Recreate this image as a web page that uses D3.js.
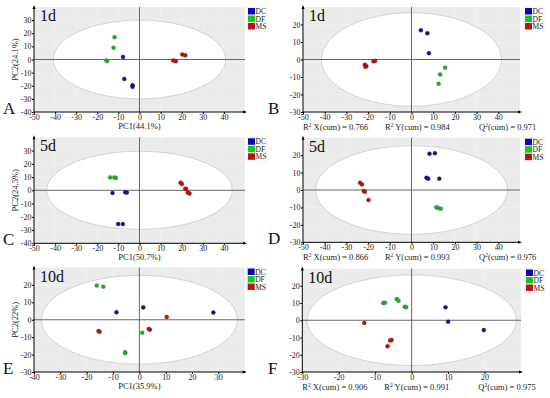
<!DOCTYPE html>
<html><head><meta charset="utf-8">
<script src="https://cdn.jsdelivr.net/npm/d3@7"></script>
<style>body{margin:0;background:#fff}svg{display:block}text{font-family:"Liberation Serif","Times New Roman",serif}</style>
</head><body><svg id="c" width="550" height="398"></svg>
<script>
const groups = ["DC", "DF", "MS"];
const A_DC = [[-7.8,2],[-7.2,-14.8],[-3.3,-19.6],[-3.3,-20.8]];
const A_DF = [[-11.8,17],[-12.3,8.9],[-15.7,-0.8],[-15.3,-1.2]];
const A_MS = [[16,-0.8],[17.2,-1.3],[20.3,3.8],[21.7,3.2]];
const B_DC = [[4.3,16.7],[7.3,15],[8,3.6]];
const B_DF = [[15.5,-4.7],[13.2,-8.6],[12.5,-13.9]];
const B_MS = [[-21.5,-3],[-20.8,-3.8],[-21.2,-4.2],[-17.5,-1],[-16.8,-0.8]];
const C_DC = [[-12.8,-2],[-6.8,-1.5],[-6,-1.75],[-10.1,-25.5],[-7.9,-25.5]];
const C_DF = [[-13.9,9.75],[-11.9,9.75],[-11.2,9.25]];
const C_MS = [[19.5,5.75],[20.1,4.75],[21.7,1.25],[22.1,1],[22.9,-1.75],[23.7,-2.5]];
const D_DC = [[8.3,20.8],[10.8,21.1],[6.9,7],[7.7,6.5],[12.8,6.5]];
const D_DF = [[11.4,-9.9],[12.3,-10.3],[13.5,-10.7]];
const D_MS = [[-23.7,4.2],[-22.8,3.2],[-22,-0.6],[-21.5,-1],[-19.8,-5.7]];
const E_DC = [[-8.7,4.3],[1.5,7.1],[28.1,4.1]];
const E_DF = [[-16.2,19.6],[-13.7,19],[1.1,-7.5],[-5.4,-18.6],[-5.4,-19.2]];
const E_MS = [[-15.5,-6.5],[-15.1,-6.9],[3.6,-5.3],[4,-5.7],[10.4,1.6]];
const F_DC = [[9.3,7.5],[10,-0.8],[19.8,-5.7]];
const F_DF = [[-7.8,10],[-7.3,10.2],[-4.1,12.3],[-3.6,11.3],[-1.9,7.8],[-1.5,7.6]];
const F_MS = [[-13,-1.6],[-5.9,-11.8],[-5.5,-11.4],[-6.6,-15]];

const xTicks50 = [-50,-40,-30,-20,-10,0,10,20,30,40];
const xTicks40 = [-40,-30,-20,-10,0,10,20,30];
const xTicks30 = [-30,-20,-10,0,10,20];
const yTicks40 = [-40,-30,-20,-10,0,10,20,30];
const yTicks30 = [-30,-20,-10,0,10,20];
const panelLetters = ["A","B","C","D","E","F"];
const dayLabels = ["1d","1d","5d","5d","10d","10d"];
const xLabels = ["PC1(44.1%)", null, "PC1(50.7%)", null, "PC1(35.9%)", null];
const yLabels = ["PC2(24.1%)", null, "PC2(24.5%)", null, "PC2(22%)", null];
const r2x = [null,"0.766",null,"0.866",null,"0.906"];
const r2y = [null,"0.984",null,"0.993",null,"0.991"];
const q2 = [null,"0.971",null,"0.976",null,"0.975"];
const ellipseRx = [40.8, 41.5, 44, 44.2, 37.2, 28.7];
const ellipseRy = [30, 26.7, 29.5, 25.4, 25.5, 26.2];

const panels = [
 {x:[-50,50], y:[-40,40], xt:xTicks50, yt:yTicks40, px:[34,245], py:[112,7], data:[A_DC,A_DF,A_MS]},
 {x:[-50,50], y:[-30,30], xt:xTicks50, yt:yTicks30, px:[303,520], py:[112,7], data:[B_DC,B_DF,B_MS]},
 {x:[-50,50], y:[-40,40], xt:xTicks50, yt:yTicks40, px:[34,245], py:[243.3,137.3], data:[C_DC,C_DF,C_MS]},
 {x:[-50,50], y:[-30,30], xt:xTicks50, yt:yTicks30, px:[303,520], py:[242.3,137.7], data:[D_DC,D_DF,D_MS]},
 {x:[-40,40], y:[-30,30], xt:xTicks40, yt:yTicks30, px:[34,244.7], py:[372,267.5], data:[E_DC,E_DF,E_MS]},
 {x:[-30,30], y:[-30,30], xt:xTicks30, yt:yTicks30, px:[302.3,521], py:[372,268.5], data:[F_DC,F_DF,F_MS]}
];
const pointColors = ["#15158f","#2aa82a","#b01616"];
const legendColors = ["#0a0ab0","#1ec41e","#bb1414"];

const svg = d3.select("#c");
panels.forEach((p, i) => {
  const xs = d3.scaleLinear().domain(p.x).range(p.px);
  const ys = d3.scaleLinear().domain(p.y).range(p.py);
  const g = svg.append("g");
  const x0 = p.px[0], x1 = p.px[1], y0 = p.py[0], y1 = p.py[1];
  g.append("rect").attr("x", x0).attr("y", y1).attr("width", x1-x0).attr("height", y0-y1).attr("fill", "#ebebeb");
  g.selectAll(".gx").data(p.xt).enter().append("line")
    .attr("x1", d=>xs(d)).attr("x2", d=>xs(d)).attr("y1", y1).attr("y2", y0)
    .attr("stroke", "#f4f4f4").attr("stroke-width", 0.6);
  g.selectAll(".gy").data(p.yt).enter().append("line")
    .attr("y1", d=>ys(d)).attr("y2", d=>ys(d)).attr("x1", x0).attr("x2", x1)
    .attr("stroke", "#f4f4f4").attr("stroke-width", 0.6);
  g.append("ellipse").attr("cx", xs(0)).attr("cy", ys(0))
    .attr("rx", xs(ellipseRx[i]) - xs(0)).attr("ry", ys(0) - ys(ellipseRy[i]))
    .attr("fill", "#fff").attr("stroke", "#d4d4d4").attr("stroke-width", 1);
  g.append("line").attr("x1", xs(0)).attr("x2", xs(0)).attr("y1", y1).attr("y2", y0).attr("stroke", "#666").attr("stroke-width", 1);
  g.append("line").attr("x1", x0).attr("x2", x1).attr("y1", ys(0)).attr("y2", ys(0)).attr("stroke", "#666").attr("stroke-width", 1);
  const ax = g.append("g").attr("transform", `translate(0,${y0})`)
    .call(d3.axisBottom(xs).tickValues(p.xt).tickSize(2).tickFormat(d=>String(d)));
  const ay = g.append("g").attr("transform", `translate(${x0},0)`)
    .call(d3.axisLeft(ys).tickValues(p.yt).tickSize(2).tickFormat(d=>String(d)));
  [ax, ay].forEach(a => {
    a.select(".domain").remove();
    a.selectAll("line").attr("stroke", "#000");
    a.selectAll("text").attr("font-size", 8).attr("fill", "#222")
      .attr("font-family", "Liberation Serif, serif");
  });
  ax.selectAll("text").attr("dy", "0.75em").attr("y", 2);
  ay.selectAll("text").attr("x", -2.5);
  g.append("line").attr("x1", x0).attr("x2", x1).attr("y1", y0).attr("y2", y0).attr("stroke", "#000").attr("stroke-width", 1);
  g.append("line").attr("x1", x0).attr("x2", x0).attr("y1", y0).attr("y2", y1).attr("stroke", "#000").attr("stroke-width", 1);
  g.append("path").attr("d", `M${x1+2},${y0} L${x1-2},${y0-1.5} L${x1-2},${y0+1.5} Z`).attr("fill", "#000");
  g.append("path").attr("d", `M${x0},${y1-2} L${x0-1.5},${y1+2} L${x0+1.5},${y1+2} Z`).attr("fill", "#000");
  p.data.forEach((arr, k) => {
    g.selectAll(null).data(arr).enter().append("circle")
      .attr("cx", d=>xs(d[0])).attr("cy", d=>ys(d[1])).attr("r", 2)
      .attr("fill", pointColors[k]).attr("stroke", d3.color(pointColors[k]).darker(0.6)).attr("stroke-width", 0.4);
  });
  g.append("text").attr("x", x0 + 6).attr("y", y1 + 14).attr("font-size", 16).attr("fill", "#111").text(dayLabels[i]);
  g.append("text").attr("x", i % 2 === 0 ? 3 : 268).attr("y", y0 + 1.5).attr("font-size", 17).attr("fill", "#111").text(panelLetters[i]);
  const lg = g.append("g").attr("transform", `translate(${x1 + (i%2===0 ? 3 : 5)},${y1 + 1})`);
  lg.append("rect").attr("x", -1).attr("y", -1).attr("width", 20).attr("height", 24).attr("fill", "#fff").attr("stroke", "#e4e4e4").attr("stroke-width", 0.5);
  groups.forEach((gname, k) => {
    lg.append("rect").attr("x", 0).attr("y", k*7.5).attr("width", 7).attr("height", 6.5).attr("fill", legendColors[k]);
    lg.append("text").attr("x", 7.5).attr("y", k*7.5 + 6).attr("font-size", 7.5).attr("fill", "#222").text(gname);
  });
  if (xLabels[i]) {
    g.append("text").attr("x", xs(0)).attr("y", y0 + 16.8).attr("text-anchor", "middle").attr("font-size", 8.5).attr("fill", "#222").text(xLabels[i]);
    g.append("text").attr("transform", `translate(${x0 - 16},${(y0+y1)/2}) rotate(-90)`).attr("text-anchor", "middle").attr("font-size", 8.5).attr("fill", "#222").text(yLabels[i]);
  } else {
    const sy = y0 + 17.5;
    const t1 = g.append("text").attr("x", x0).attr("y", sy).attr("font-size", 8.5).attr("fill", "#222");
    t1.append("tspan").text("R");
    t1.append("tspan").attr("dy", -3).attr("font-size", 5.5).text("2");
    t1.append("tspan").attr("dy", 3).text(" X(cum) = " + r2x[i]);
    const t2 = g.append("text").attr("x", x0 + 82).attr("y", sy).attr("font-size", 8.5).attr("fill", "#222");
    t2.append("tspan").text("R");
    t2.append("tspan").attr("dy", -3).attr("font-size", 5.5).text("2");
    t2.append("tspan").attr("dy", 3).text(" Y(cum) = " + r2y[i]);
    const t3 = g.append("text").attr("x", x0 + 176).attr("y", sy).attr("font-size", 8.5).attr("fill", "#222");
    t3.append("tspan").text("Q");
    t3.append("tspan").attr("dy", -3).attr("font-size", 5.5).text("2");
    t3.append("tspan").attr("dy", 3).text("(cum) = " + q2[i]);
  }
});
</script></body></html>
